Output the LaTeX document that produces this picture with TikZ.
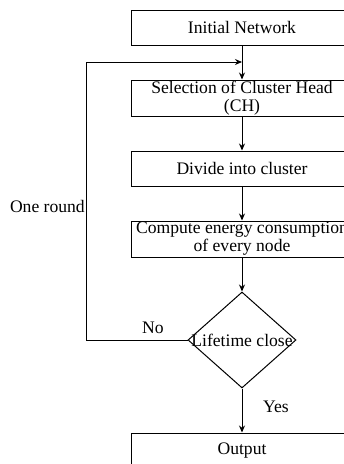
\documentclass[tikz,border=0pt]{standalone}
\usepackage{fontspec}
\setmainfont{Liberation Serif}
\usetikzlibrary{shapes.geometric,arrows.meta}
\begin{document}
\begin{tikzpicture}[x=1pt,y=-1pt,
  every node/.style={font=\fontsize{17.6}{18}\selectfont},
  box/.style={draw, line width=1pt, rectangle, minimum width=222pt, inner sep=0pt, align=center},
  arr/.style={line width=1pt, -{Stealth[length=7pt,width=6pt]}},
  lbl/.style={inner sep=0pt}]
\clip (0,0) rectangle (344,464);
\fill[white] (0,0) rectangle (344,464);
\node[box, minimum height=35pt] (init) at (242,27.5) {Initial Network};
\node[box, minimum height=36pt] (sel) at (242,98) {Selection of Cluster Head\\(CH)};
\node[box, minimum height=35pt] (div) at (242,168.5) {Divide into cluster};
\node[box, minimum height=36pt] (comp) at (242,239) {Compute energy consumption\\of every node};
\node[draw, line width=1pt, diamond, minimum width=108pt, minimum height=96pt, inner sep=0pt] (dec) at (242,340) {};
\node[lbl] (dectext) at (dec.center) {Lifetime close};
\node[box, minimum height=36pt] (out) at (242,451) {Output};
\coordinate (m) at (242,62);
\node[lbl, anchor=east] (one) at (85,206) {One round};
\node[lbl] (no) at (153,328) {No};
\node[lbl] (yes) at (276,407) {Yes};
\draw[arr] (init) -- (sel);
\draw[arr] (sel) -- (div);
\draw[arr] (div) -- (comp);
\draw[arr] (comp) -- (dec);
\draw[arr] (dec) -- (out);
\draw[arr] (dec.west) -- ++(-101,0) |- (m);
\end{tikzpicture}
\end{document}
